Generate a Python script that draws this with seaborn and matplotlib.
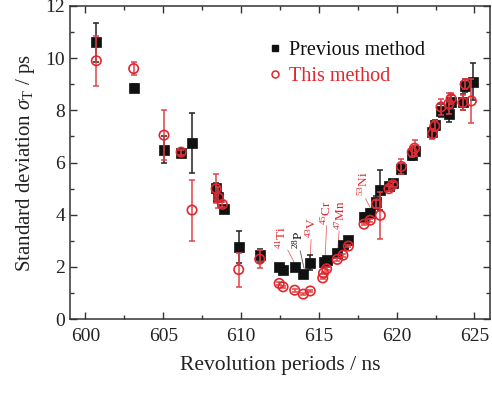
import matplotlib
matplotlib.use("Agg")
import matplotlib.pyplot as plt
from matplotlib.lines import Line2D
from matplotlib.ticker import MultipleLocator
import numpy as np
import pandas as pd
import seaborn as sns

# Previous method: revolution period (ns), sigma_T (ps), uncertainty (ps)
prev_period = [600.7, 603.1, 605.05, 606.15, 606.85, 608.4, 608.55, 608.9, 609.85, 611.2,
               612.45, 612.7, 613.45, 614.0, 614.45, 615.3, 615.55, 616.18, 616.55, 616.9,
               617.9, 618.3, 618.7, 618.95, 619.5, 619.75, 620.3, 621.0, 621.15, 622.3,
               622.45, 622.85, 623.35, 623.5, 624.25, 624.4, 624.9]
prev_sigma = [10.6, 8.85, 6.5, 6.35, 6.75, 5.02, 4.67, 4.22, 2.76, 2.45,
              1.99, 1.88, 2.0, 1.72, 2.17, 2.2, 2.26, 2.52, 2.84, 3.03,
              3.9, 4.08, 4.47, 4.95, 5.1, 5.22, 5.75, 6.3, 6.45, 7.18,
              7.42, 7.98, 7.85, 8.33, 8.33, 8.95, 9.1]
prev_err = [0.75, 0.15, 0.5, 0.12, 1.15, 0.2, 0.2, 0.12, 0.6, 0.25,
            0.1, 0.1, 0.1, 0.1, 0.3, 0.1, 0.1, 0.1, 0.1, 0.1,
            0.15, 0.15, 0.25, 0.75, 0.12, 0.12, 0.2, 0.2, 0.2, 0.2,
            0.2, 0.25, 0.3, 0.25, 0.3, 0.25, 0.7]

# This method
this_period = [600.7, 603.1, 605.05, 606.15, 606.85, 608.4, 608.55, 608.8, 609.85, 611.2,
               612.45, 612.7, 613.45, 614.0, 614.45, 615.25, 615.3, 615.5, 616.18, 616.55,
               616.9, 617.9, 618.3, 618.7, 618.95, 619.5, 619.75, 620.3, 621.0, 621.15,
               622.3, 622.45, 622.85, 623.35, 623.5, 624.25, 624.4, 624.8]
this_sigma = [9.9, 9.6, 7.05, 6.4, 4.18, 5.0, 4.65, 4.4, 1.9, 2.3,
              1.37, 1.24, 1.11, 0.96, 1.08, 1.58, 1.77, 1.93, 2.29, 2.45,
              2.8, 3.64, 3.79, 4.42, 3.98, 5.0, 5.15, 5.85, 6.4, 6.55,
              7.1, 7.4, 8.13, 8.25, 8.45, 8.3, 9.0, 8.36]
this_err = [0.95, 0.25, 0.95, 0.1, 1.17, 0.55, 0.4, 0.1, 0.65, 0.35,
            0.05, 0.05, 0.05, 0.05, 0.05, 0.05, 0.05, 0.05, 0.05, 0.05,
            0.05, 0.05, 0.05, 0.15, 0.9, 0.1, 0.1, 0.3, 0.2, 0.3,
            0.2, 0.2, 0.3, 0.4, 0.2, 0.3, 0.2, 0.85]

series_names = ["Previous method", "This method"]

# Nuclide labels: text, colour, text anchor (x, y bottom), leader line start and end
nuclide_labels = [r"$^{41}$Ti", r"$^{28}$P", r"$^{43}$V", r"$^{45}$Cr", r"$^{47}$Mn", r"$^{53}$Ni"]
nuclide_colors = ["red", "black", "red", "red", "red", "red"]
label_xy = [(612.6, 2.7), (613.65, 2.7), (614.5, 3.12), (615.5, 3.62), (616.35, 3.42), (617.85, 4.7)]
line_from = [(613.0, 2.65), (613.8, 2.62), (614.5, 3.05), (615.5, 3.58), (616.3, 3.38), (618.0, 4.62)]
line_to = [(613.4, 2.2), (614.05, 1.95), (614.45, 2.42), (615.4, 2.35), (616.22, 2.7), (618.4, 4.15)]

RED = "#e3262d"
RED_BAR = "#e04348"

sns.set_theme(style="ticks")
plt.rcParams["font.family"] = ["Liberation Serif", "DejaVu Serif"]
plt.rcParams["mathtext.fontset"] = "custom"
plt.rcParams["mathtext.rm"] = "Liberation Serif"
plt.rcParams["mathtext.it"] = "Liberation Serif:italic"

prev_df = pd.DataFrame({"period": prev_period, "sigma": prev_sigma, "err": prev_err})
this_df = pd.DataFrame({"period": this_period, "sigma": this_sigma, "err": this_err})

fig = plt.figure(figsize=(4.92, 3.96), dpi=100)
ax = fig.add_axes([0.142, 0.194, 0.854, 0.791])

ax.errorbar(prev_df["period"], prev_df["sigma"], yerr=prev_df["err"], fmt="none",
            ecolor="#222222", elinewidth=1.1, capsize=2.2, capthick=1.1, zorder=2)
sns.scatterplot(data=prev_df, x="period", y="sigma", marker="s", s=42,
                color="#111111", edgecolor="#111111", linewidth=0.5, ax=ax, zorder=3)

ax.errorbar(this_df["period"], this_df["sigma"], yerr=this_df["err"], fmt="none",
            ecolor=RED_BAR, elinewidth=1.1, capsize=2.2, capthick=1.1, zorder=4)
sns.scatterplot(data=this_df, x="period", y="sigma", marker="o", s=46,
                color=RED, facecolor="none", edgecolor=RED, linewidth=1.2, ax=ax, zorder=5)

label_colors = {"red": RED, "black": "#111111"}
for txt, col, (tx, ty), p0, p1 in zip(nuclide_labels, nuclide_colors, label_xy, line_from, line_to):
    c = label_colors[col]
    ax.text(tx, ty, txt, rotation=90, ha="center", va="bottom", color=c, fontsize=9.5)
    ax.plot([p0[0], p1[0]], [p0[1], p1[1]], color=c, lw=0.6, alpha=0.7, zorder=1)

ax.set_xlim(599, 626)
ax.set_ylim(0, 12)
ax.xaxis.set_major_locator(MultipleLocator(5))
ax.xaxis.set_minor_locator(MultipleLocator(2.5))
ax.yaxis.set_major_locator(MultipleLocator(2))
ax.yaxis.set_minor_locator(MultipleLocator(1))
ax.tick_params(which="both", direction="in", top=True, right=True, color="#333333",
               labelsize=14, labelcolor="#222222")
ax.tick_params(which="major", length=5, width=1)
ax.tick_params(which="minor", length=3, width=1)
for sp in ax.spines.values():
    sp.set_color("#333333")
    sp.set_linewidth(1.1)
ax.tick_params(axis="x", pad=6)

ax.set_xlabel("Revolution periods / ns", fontsize=15.5, color="#222222", labelpad=8)
ax.set_ylabel(r"Standard deviation $\sigma_{\rm T}$ / ps", fontsize=15, color="#222222", labelpad=6)

handles = [
    Line2D([], [], marker="s", ls="none", color="#111111", markersize=5),
    Line2D([], [], marker="o", ls="none", color=RED, markerfacecolor="none",
           markersize=5, markeredgewidth=1.1),
]
ax.legend(handles, series_names, loc="upper left", bbox_to_anchor=(0.45, 0.915),
          frameon=False, fontsize=14.5, handlelength=0.8, handletextpad=0.3,
          labelspacing=0.35, labelcolor=["#111111", RED], borderaxespad=0)

fig.savefig("out.png", dpi=100)
